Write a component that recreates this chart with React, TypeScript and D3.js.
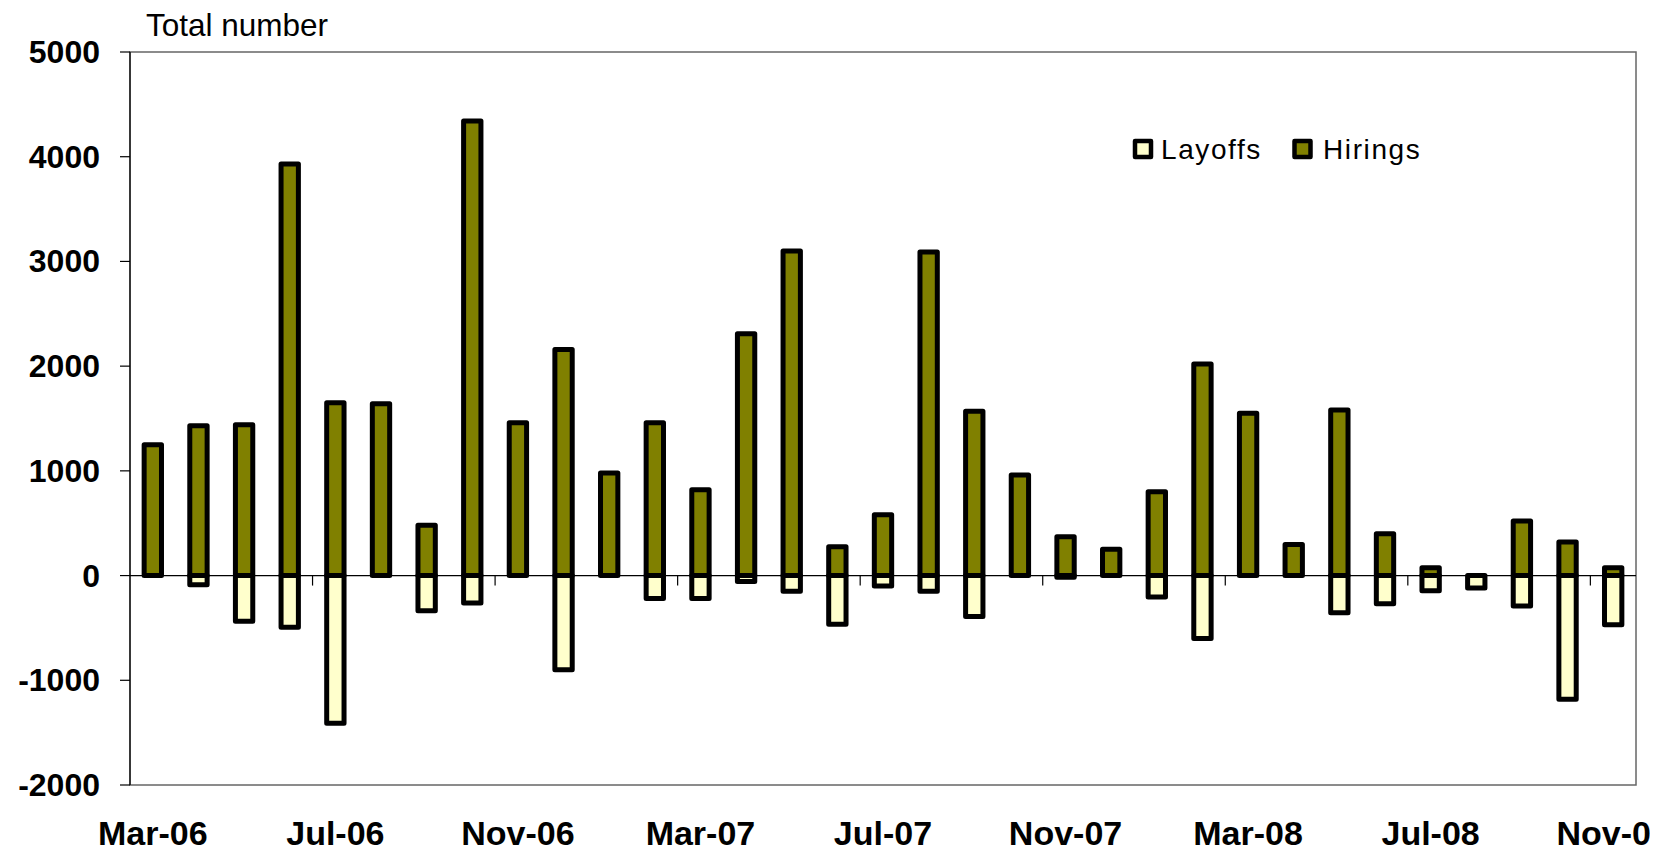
import React from 'react';
import * as d3 from 'd3';

const months = [
  'Mar-06', 'Apr-06', 'May-06', 'Jun-06', 'Jul-06', 'Aug-06', 'Sep-06', 'Oct-06', 'Nov-06', 'Dec-06',
  'Jan-07', 'Feb-07', 'Mar-07', 'Apr-07', 'May-07', 'Jun-07', 'Jul-07', 'Aug-07', 'Sep-07', 'Oct-07',
  'Nov-07', 'Dec-07', 'Jan-08', 'Feb-08', 'Mar-08', 'Apr-08', 'May-08', 'Jun-08', 'Jul-08', 'Aug-08',
  'Sep-08', 'Oct-08', 'Nov-08',
];

const hirings = [
  1250, 1430, 1440, 3930, 1650, 1640, 480, 4340, 1460, 2160,
  980, 1460, 820, 2310, 3100, 276, 580, 3090, 1570, 960,
  370, 252, 800, 2020, 1550, 296, 1580, 400, 75, 0,
  520, 320, 75,
];

const layoffs = [
  0, -87, -437, -494, -1410, 0, -335, -262, 0, -900,
  0, -220, -220, -57, -150, -465, -100, -150, -390, 0,
  -15, 0, -205, -600, 0, 0, -355, -270, -145, -118,
  -290, -1180, -470,
];

const yTicks = [-2000, -1000, 0, 1000, 2000, 3000, 4000, 5000];
const labelEvery = 4;

const W = 1668;
const H = 851;
const left = 130;
const right = 1636;
const top = 52;
const bottom = 785;
const font = '"Liberation Sans", Arial, sans-serif';
const hireColor = '#808000';
const layColor = '#FFFFCC';

export default function App() {
  const x = d3.scaleBand<string>().domain(months).range([left, right]).paddingInner(0.62).paddingOuter(0.31);
  const y = d3.scaleLinear().domain([-2000, 5000]).range([bottom, top]);
  const step = x.step();
  const y0 = y(0);

  return (
    <svg width={W} height={H} style={{ position: 'absolute', left: 0, top: 0, background: '#fff' }}>
      <defs>
        <clipPath id="lblclip">
          <rect x={0} y={0} width={1650} height={H} />
        </clipPath>
      </defs>
      {/* plot frame */}
      <rect x={left} y={top} width={right - left} height={bottom - top} fill="none" stroke="#666" strokeWidth={1.5} />
      <line x1={left} x2={left} y1={top} y2={bottom} stroke="#000" strokeWidth={1.2} />

      {/* y ticks + labels */}
      {yTicks.map((t) => (
        <g key={t}>
          <line x1={left - 10} x2={left} y1={y(t)} y2={y(t)} stroke="#000" strokeWidth={1.2} />
          <text x={100} y={y(t) + 11} textAnchor="end" fontFamily={font} fontWeight="bold" fontSize={32} fill="#000">
            {t}
          </text>
        </g>
      ))}

      <text x={146} y={36} fontFamily={font} fontSize={31.5} fill="#000">Total number</text>

      {/* zero axis */}
      <line x1={left} x2={right} y1={y0} y2={y0} stroke="#000" strokeWidth={1.2} />
      {months.map((m, i) =>
        i > 0 && i % labelEvery === 0 ? (
          <line key={'t' + m} x1={left + i * step} x2={left + i * step} y1={y0} y2={y0 + 10} stroke="#000" strokeWidth={1.2} />
        ) : null
      )}

      {/* layoffs */}
      {months.map((m, i) =>
        layoffs[i] !== 0 ? (
          <rect key={'l' + m} x={x(m)} y={y0} width={x.bandwidth()} height={y(layoffs[i]) - y0}
            fill={layColor} stroke="#000" strokeWidth={5} strokeLinejoin="round" />
        ) : null
      )}
      {/* hirings */}
      {months.map((m, i) =>
        hirings[i] !== 0 ? (
          <rect key={'h' + m} x={x(m)} y={y(hirings[i])} width={x.bandwidth()} height={y0 - y(hirings[i])}
            fill={hireColor} stroke="#000" strokeWidth={5} strokeLinejoin="round" />
        ) : null
      )}

      {/* x labels */}
      <g clipPath="url(#lblclip)">
        {months.map((m, i) =>
          i % labelEvery === 0 ? (
            <text key={'x' + m} x={(x(m) as number) + x.bandwidth() / 2} y={845} textAnchor="middle"
              fontFamily={font} fontWeight="bold" fontSize={34} fill="#000">
              {m}
            </text>
          ) : null
        )}
      </g>

      {/* legend */}
      <g fontFamily={font} fontSize={28} fill="#000">
        <rect x={1135} y={141} width={16} height={16} fill={layColor} stroke="#000" strokeWidth={4.5} strokeLinejoin="round" />
        <text x={1161} y={159} letterSpacing={1.6}>Layoffs</text>
        <rect x={1294.5} y={141} width={16} height={16} fill={hireColor} stroke="#000" strokeWidth={4.5} strokeLinejoin="round" />
        <text x={1323} y={159} letterSpacing={1.6}>Hirings</text>
      </g>
    </svg>
  );
}
